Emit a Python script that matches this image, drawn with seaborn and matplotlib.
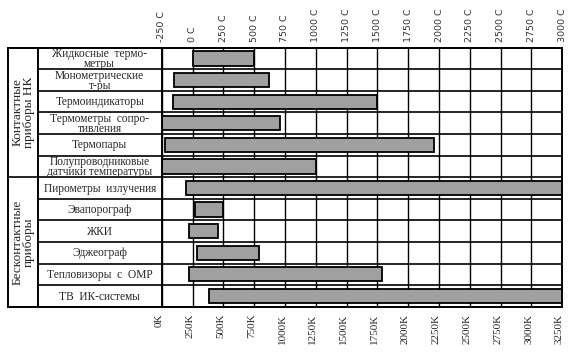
import numpy as np
import pandas as pd
import matplotlib
matplotlib.use("Agg")
import matplotlib.pyplot as plt
import seaborn as sns

# Данные (температура, °C)
devices = [
    "Жидкосные  термо-\nметры",
    "Монометрические\nт-ры",
    "Термоиндикаторы",
    "Термометры  сопро-\nтивления",
    "Термопары",
    "Полупроводниковые\nдатчики температуры",
    "Пирометры  излучения",
    "Эвапорограф",
    "ЖКИ",
    "Эджеограф",
    "Тепловизоры  с  ОМР",
    "ТВ  ИК-системы",
]
t_start = [0, -150, -160, -250, -220, -250, -50, 20, -25, 35, -30, 130]
t_end = [500, 620, 1500, 710, 1960, 1000, 3000, 245, 210, 540, 1540, 3000]

groups = ["Контактные\nприборы НК", "Бесконтактные\nприборы"]
group_rows = [(0, 5), (6, 11)]

c_ticks = list(range(-250, 3001, 250))
c_labels = [f"{t} C" for t in c_ticks]
k_ticks = list(range(0, 3251, 250))
k_labels = [f"{t}K" for t in k_ticks]

df = pd.DataFrame({"device": devices, "start": t_start, "end": t_end})

sns.set_style("white")
plt.rcParams["font.family"] = ["DejaVu Sans"]

W, H = 577, 359
fig = plt.figure(figsize=(W / 100, H / 100), dpi=100)

# геометрия в пикселях
x_lab0, x_grp, x_plot0, x_plot1 = 8.3, 37.7, 161.7, 562.3
y_top, y_bot = 47.7, 306.7
bottom = 1 - y_bot / H
height = (y_bot - y_top) / H

ax = fig.add_axes([x_plot0 / W, bottom, (x_plot1 - x_plot0) / W, height])
n = len(devices)

# сетка
for t in c_ticks:
    ax.axvline(t, color="black", lw=1.0, zorder=0)
for i in range(n + 1):
    ax.axhline(i - 0.5, color="black", lw=1.2, zorder=0)

sns.barplot(data=df, x="end", y="device", orient="h", color="#a0a0a0",
            saturation=1, edgecolor="black", linewidth=1.3, width=0.66,
            ax=ax, zorder=2)
for p, s, e in zip(ax.patches, t_start, t_end):
    p.set_x(s)
    p.set_width(e - s)

ax.set_xlim(-250, 3000)
ax.set_ylim(n - 0.5, -0.5)
ax.set_ylabel("")
ax.set_xlabel("")
ax.set_yticks([])
ax.xaxis.tick_top()
ax.set_xticks(c_ticks)
ax.set_xticklabels(c_labels, rotation=90, fontsize=6.8, color="#333333")
ax.tick_params(axis="x", length=0, pad=4)
for sp in ax.spines.values():
    sp.set_visible(True)
    sp.set_color("black")
    sp.set_linewidth(1.4)

# таблица подписей
lax = fig.add_axes([x_lab0 / W, bottom, (x_plot0 - x_lab0) / W, height])
lax.set_xlim(0, 1)
lax.set_ylim(n - 0.5, -0.5)
lax.set_xticks([])
lax.set_yticks([])
for sp in lax.spines.values():
    sp.set_color("black")
    sp.set_linewidth(1.4)
gx = (x_grp - x_lab0) / (x_plot0 - x_lab0)
lax.axvline(gx, color="black", lw=1.4)
for i in range(1, n):
    x0 = 0 if i == 6 else gx
    lax.plot([x0, 1], [i - 0.5, i - 0.5], color="black", lw=1.2)
for name, (r0, r1) in zip(groups, group_rows):
    lax.text(gx / 2, (r0 + r1) / 2, name, rotation=90, ha="center",
             va="center", fontsize=9.5, family="Liberation Serif",
             linespacing=0.95)
for i, name in enumerate(devices):
    lax.text((gx + 1) / 2, i + 0.03, name, ha="center", va="center",
             fontsize=8.3, family="Liberation Serif", linespacing=0.8)

# нижняя шкала в кельвинах
k0 = x_plot0 + (-273.15 + 250) * (x_plot1 - x_plot0) / 3250
kax = fig.add_axes([k0 / W, bottom, (x_plot1 - k0) / W, 0.0001])
kax.set_xlim(0, 3273.15)
kax.set_yticks([])
for sp in kax.spines.values():
    sp.set_visible(False)
kax.patch.set_alpha(0)
kax.set_xticks(k_ticks)
kax.set_xticklabels(k_labels, rotation=90, fontsize=8,
                    family="Liberation Serif")
kax.tick_params(axis="x", direction="inout", length=6, width=1.2, pad=2)

fig.savefig("out.png", dpi=100)
